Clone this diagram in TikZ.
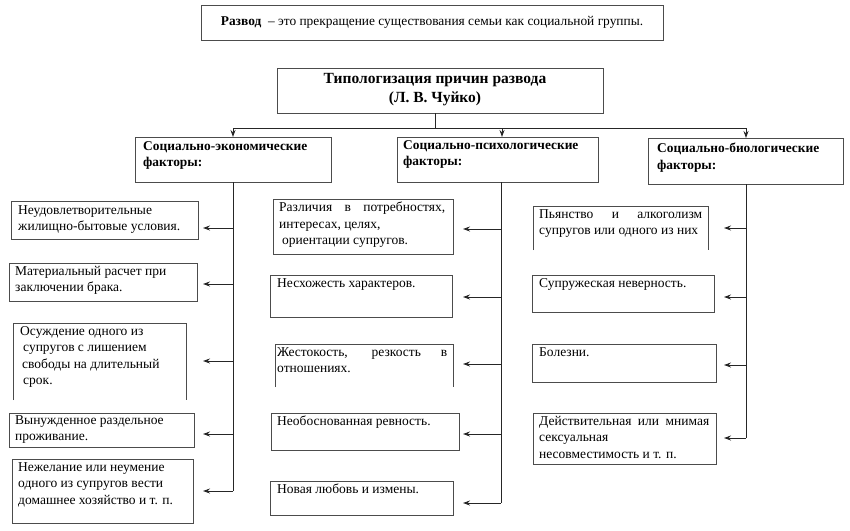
\documentclass[tikz,border=0pt]{standalone}
\usepackage{fontspec}
\setmainfont{Liberation Serif}
\usetikzlibrary{arrows.meta,positioning}
\begin{document}
\begin{tikzpicture}[x=1pt,y=-1pt,
  box/.style={draw=black!70,line width=0.8pt,rectangle,anchor=north west,inner sep=0pt,outer sep=0pt},
  obox/.style={rectangle,anchor=north west,inner sep=0pt,outer sep=0pt},
  txt/.style={inner sep=0pt,anchor=north west,align=left,font=\fontsize{13.5}{16.5}\selectfont},
  btxt/.style={txt,font=\fontsize{13.4}{16.5}\selectfont\bfseries},
  ln/.style={draw=black!85,line width=0.9pt},
  arr/.style={ln,-{Stealth[length=7pt,width=5pt]}}]
\useasboundingbox (0,0) rectangle (850,530);

% top definition
\node[box,minimum width=462pt,minimum height=35pt] (def) at (201,5) {};
\node[inner sep=0pt,font=\fontsize{13.4}{16}\selectfont] (deft) at (def.center) {\textbf{Развод}\ \ – это прекращение существования семьи как социальной группы.};

% title
\node[box,minimum width=326pt,minimum height=45pt] (title) at (277,68) {};
\node[inner sep=0pt,align=center,font=\fontsize{15.5}{19}\selectfont\bfseries] (titlet) at (435,90) {Типологизация причин развода\\(Л. В. Чуйко)};

% categories
\node[box,minimum width=196pt,minimum height=45pt] (cl) at (135,137) {};
\node[btxt] (clt) at (143,141) {Социально-экономические\\факторы:};
\node[box,minimum width=201pt,minimum height=45pt] (cm) at (397,137) {};
\node[btxt] (cmt) at (403,140) {Социально-психологические\\факторы:};
\node[box,minimum width=195pt,minimum height=46pt] (cr) at (648,138) {};
\node[btxt] (crt) at (657,143) {Социально-биологические\\факторы:};

% hub connectors
\coordinate (hub) at (435,128);
\coordinate (hl) at (233,128);
\coordinate (hm) at (502,128);
\coordinate (hr) at (746,128);
\draw[ln] (title.south -| hub) -- (hub);
\draw[ln] (hl) -- (hr);
\draw[arr] (hl) -- (hl |- cl.north);
\draw[arr] (hm) -- (hm |- cm.north);
\draw[arr] (hr) -- (hr |- cr.north);

% ---------- left column ----------
\node[box,minimum width=187pt,minimum height=38pt] (l1) at (11,201) {};
\node[txt] (l1t) at (18,205) {Неудовлетворительные\\жилищно-бытовые условия.};
\node[box,minimum width=188pt,minimum height=38pt] (l2) at (9,263) {};
\node[txt] (l2t) at (15,266) {Материальный расчет при\\заключении брака.};
\node[obox,minimum width=173pt,minimum height=77pt] (l3) at (13,323) {};
\draw[draw=black!70,line width=0.8pt] (l3.south west) -- (l3.north west) -- (l3.north east) -- (l3.south east);
\node[txt] (l3t) at (20,326) {Осуждение одного из\\\hspace*{3pt}супругов с лишением\\\hspace*{2pt}свободы на длительный\\\hspace*{3pt}срок.};
\node[box,minimum width=185pt,minimum height=34pt] (l4) at (9,413) {};
\node[txt] (l4t) at (15,415) {Вынужденное раздельное\\проживание.};
\node[box,minimum width=181pt,minimum height=64pt] (l5) at (12,459) {};
\node[txt] (l5t) at (18,462) {Нежелание или неумение\\одного из супругов вести\\домашнее хозяйство и т. п.};

\coordinate (ltip) at (203,0);
\coordinate (la1) at (233,228);
\coordinate (la2) at (233,284);
\coordinate (la3) at (233,361);
\coordinate (la4) at (233,434);
\coordinate (la5) at (233,491);
\draw[ln] (cl.south) -- (la5);
\foreach \a in {la1,la2,la3,la4,la5} \draw[arr] (\a) -- (\a -| ltip);

% ---------- middle column ----------
\node[box,minimum width=180pt,minimum height=55pt] (m1) at (273,199) {};
\node[txt] (m1t) at (279,202) {\makebox[166pt][s]{Различия в потребностях,}\\интересах, целях,\\\hspace*{3pt}ориентации супругов.};
\node[box,minimum width=182pt,minimum height=42pt] (m2) at (270,275) {};
\node[txt] (m2t) at (277,278) {Несхожесть характеров.};
\node[obox,minimum width=178pt,minimum height=43pt] (m3) at (275,344) {};
\draw[draw=black!70,line width=0.8pt] (m3.south west) -- (m3.north west) -- (m3.north east) -- (m3.south east);
\node[txt] (m3t) at (277,347) {\makebox[170pt][s]{Жестокость, резкость в}\\отношениях.};
\node[box,minimum width=188pt,minimum height=37pt] (m4) at (271,413) {};
\node[txt] (m4t) at (277,416) {Необоснованная ревность.};
\node[box,minimum width=183pt,minimum height=34pt] (m5) at (270,481) {};
\node[txt] (m5t) at (277,484) {Новая любовь и измены.};

\coordinate (mtip) at (463,0);
\coordinate (ma1) at (501,229);
\coordinate (ma2) at (501,297);
\coordinate (ma3) at (501,364);
\coordinate (ma4) at (501,434);
\coordinate (ma5) at (501,503);
\draw[ln] (cm.south -| ma1) -- (ma5);
\foreach \a in {ma1,ma2,ma3,ma4,ma5} \draw[arr] (\a) -- (\a -| mtip);

% ---------- right column ----------
\node[obox,minimum width=175pt,minimum height=44pt] (r1) at (533,206) {};
\draw[draw=black!70,line width=0.8pt] (r1.south west) -- (r1.north west) -- (r1.north east) -- (r1.south east);
\node[txt] (r1t) at (539,209) {\makebox[163pt][s]{Пьянство и алкоголизм}\\супругов или одного из них};
\node[box,minimum width=182pt,minimum height=37pt] (r2) at (532,275) {};
\node[txt] (r2t) at (539,278) {Супружеская неверность.};
\node[box,minimum width=184pt,minimum height=38pt] (r3) at (532,344) {};
\node[txt] (r3t) at (539,347) {Болезни.};
\node[box,minimum width=183pt,minimum height=51pt] (r4) at (533,413) {};
\node[txt] (r4t) at (539,416) {\makebox[170pt][s]{Действительная или мнимая}\\сексуальная\\несовместимость и т. п.};

\coordinate (rtip) at (724,0);
\coordinate (ra1) at (746,228);
\coordinate (ra2) at (746,297);
\coordinate (ra3) at (746,365);
\coordinate (ra4) at (746,438);
\draw[ln] (cr.south -| ra1) -- (ra4);
\foreach \a in {ra1,ra2,ra3,ra4} \draw[arr] (\a) -- (\a -| rtip);
\end{tikzpicture}
\end{document}
